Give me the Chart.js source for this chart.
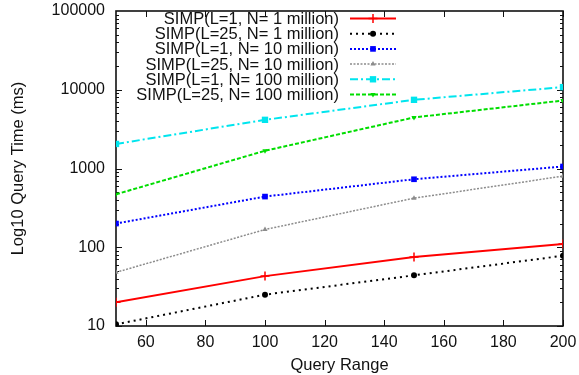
<!DOCTYPE html>
<html>
<head>
<meta charset="utf-8">
<script src="https://cdn.jsdelivr.net/npm/chart.js@4.4.0/dist/chart.umd.min.js"></script>
<style>
  html, body { margin: 0; padding: 0; background: #fff; }
</style>
</head>
<body>
<canvas id="myChart" width="579" height="375"></canvas>
<script>
// query range on the x axis
const queryRange = [50, 100, 150, 200];

// query time (ms)
const l1n1m = [20, 43, 75, 110];
const l25n1m = [10.5, 25, 44, 78];
const l1n10m = [200, 440, 730, 1060];
const l25n10m = [48, 168, 420, 800];
const l1n100m = [2050, 4150, 7450, 10800];
const l25n100m = [470, 1680, 4450, 7300];

const seriesNames = [
  "SIMP(L=1, N= 1 million)",
  "SIMP(L=25, N= 1 million)",
  "SIMP(L=1, N= 10 million)",
  "SIMP(L=25, N= 10 million)",
  "SIMP(L=1, N= 100 million)",
  "SIMP(L=25, N= 100 million)"
];

const xTicks = [60, 80, 100, 120, 140, 160, 180, 200];
const yTicks = [10, 100, 1000, 10000, 100000];

const FONT = "'Liberation Sans', Arial, Helvetica, sans-serif";

function pts(arr) {
  return arr.map((v, i) => ({ x: queryRange[i], y: v }));
}

// inward ticks on all four sides + box round the plot
const frame = {
  id: "frame",
  beforeDatasetsDraw(chart) {
    const ctx = chart.ctx;
    const a = chart.chartArea;
    const xs = chart.scales.x;
    const ys = chart.scales.y;
    ctx.save();
    ctx.strokeStyle = "#111";
    ctx.lineWidth = 1;
    ctx.beginPath();
    xTicks.forEach((v) => {
      const px = Math.round(xs.getPixelForValue(v)) + 0.5;
      ctx.moveTo(px, a.bottom); ctx.lineTo(px, a.bottom - 6);
      ctx.moveTo(px, a.top); ctx.lineTo(px, a.top + 6);
    });
    for (let d = 10; d < 100000; d *= 10) {
      for (let k = 1; k <= 9; k++) {
        const len = k == 1 ? 6 : 3;
        const py = Math.round(ys.getPixelForValue(d * k)) + 0.5;
        ctx.moveTo(a.left, py); ctx.lineTo(a.left + len, py);
        ctx.moveTo(a.right, py); ctx.lineTo(a.right - len, py);
      }
    }
    ctx.stroke();
    ctx.lineWidth = 1.6;
    ctx.strokeRect(a.left, a.top, a.right - a.left, a.bottom - a.top);
    ctx.restore();
  }
};

// gnuplot style key: text right aligned, sample on its right
const key = {
  id: "key",
  afterDatasetsDraw(chart) {
    const ctx = chart.ctx;
    ctx.save();
    ctx.font = "16.5px " + FONT;
    ctx.textAlign = "right";
    ctx.textBaseline = "middle";
    chart.data.datasets.forEach((ds, i) => {
      const y = 18.5 + i * 15.2;
      ctx.fillStyle = "#111";
      ctx.fillText(ds.label, 339, y + 1);
      ctx.strokeStyle = ds.borderColor;
      ctx.lineWidth = ds.borderWidth;
      ctx.setLineDash(ds.borderDash || []);
      ctx.beginPath();
      ctx.moveTo(350, y);
      ctx.lineTo(396, y);
      ctx.stroke();
      ctx.setLineDash([]);
      ctx.fillStyle = ds.pointBackgroundColor;
      ctx.strokeStyle = ds.borderColor;
      ctx.lineWidth = 1.5;
      Chart.helpers.drawPoint(ctx, {
        pointStyle: ds.pointStyle,
        radius: ds.pointRadius,
        rotation: ds.pointRotation || 0,
        borderWidth: ds.pointStyle == "cross" ? 1.5 : 0
      }, 373, y);
    });
    ctx.restore();
  }
};

function line(i, data, color, dash, width, style, radius, rot) {
  return {
    label: seriesNames[i],
    data: pts(data),
    borderColor: color,
    backgroundColor: color,
    pointBackgroundColor: color,
    pointBorderColor: color,
    borderWidth: width,
    borderDash: dash,
    pointStyle: style,
    pointRadius: radius,
    pointRotation: rot || 0,
    pointBorderWidth: style == "cross" ? 1.5 : 0,
    tension: 0,
    fill: false
  };
}

new Chart("myChart", {
  type: "line",
  data: {
    datasets: [
      line(0, l1n1m, "#ff0000", [], 2, "cross", 4.5),
      line(1, l25n1m, "#000000", [2, 4], 2, "circle", 3),
      line(2, l1n10m, "#0000ff", [2, 2], 2, "rect", 4),
      line(3, l25n10m, "#8c8c8c", [2, 1.5], 1.5, "triangle", 3),
      line(4, l1n100m, "#00e5ee", [8, 3, 2, 3], 2, "rect", 4.5),
      line(5, l25n100m, "#00dd00", [4, 2], 2, "triangle", 3, 180)
    ]
  },
  plugins: [frame, key],
  options: {
    responsive: false,
    animation: false,
    devicePixelRatio: 1,
    layout: { padding: { top: 11, right: 16, left: 0, bottom: 0 } },
    plugins: {
      legend: { display: false },
      tooltip: { enabled: false }
    },
    scales: {
      x: {
        type: "linear",
        min: 50,
        max: 200,
        afterBuildTicks: (s) => { s.ticks = xTicks.map((v) => ({ value: v })); },
        afterFit: (s) => { s.height = 49; s.paddingLeft = 0; s.paddingRight = 0; },
        grid: { display: false, drawTicks: false },
        border: { display: false },
        ticks: { color: "#111", padding: 7, font: { family: FONT, size: 16 } },
        title: {
          display: true,
          text: "Query Range",
          color: "#111",
          padding: { top: 0, bottom: 0 },
          font: { family: FONT, size: 16.5 }
        }
      },
      y: {
        type: "logarithmic",
        min: 10,
        max: 100000,
        afterBuildTicks: (s) => { s.ticks = yTicks.map((v) => ({ value: v })); },
        afterFit: (s) => { s.width = 116; s.paddingTop = 0; s.paddingBottom = 0; },
        grid: { display: false, drawTicks: false },
        border: { display: false },
        ticks: {
          color: "#111",
          padding: 11,
          font: { family: FONT, size: 16 },
          callback: (v) => String(v)
        },
        title: {
          display: true,
          text: "Log10 Query Time (ms)",
          color: "#111",
          padding: { top: 9, bottom: 0 },
          font: { family: FONT, size: 16.5 }
        }
      }
    }
  }
});
</script>
</body>
</html>
